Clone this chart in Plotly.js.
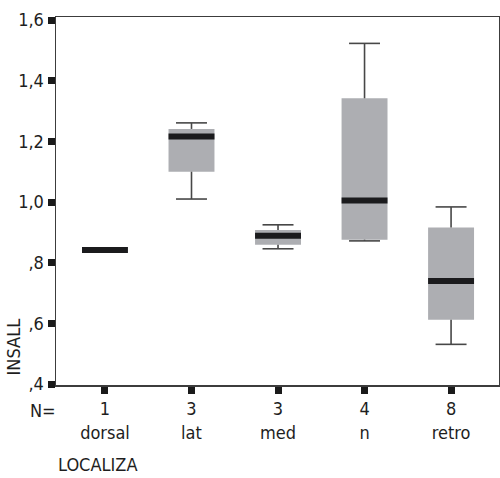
<!DOCTYPE html>
<html>
<head>
<meta charset="utf-8">
<script src="https://cdn.plot.ly/plotly-3.0.1.min.js"></script>
<style>html,body{margin:0;padding:0;background:#fff;}#chart{width:500px;height:478px;}</style>
</head>
<body>
<div id="chart"></div>
<script>
// ---- data ----
const categories = ['dorsal', 'lat', 'med', 'n', 'retro'];
const counts = [1, 3, 3, 4, 8];
const lowerWhisker = [0.842, 1.010, 0.846, 0.872, 0.531];
const q1 = [0.842, 1.100, 0.859, 0.876, 0.612];
const median = [0.842, 1.216, 0.889, 1.005, 0.740];
const q3 = [0.842, 1.241, 0.908, 1.342, 0.916];
const upperWhisker = [0.842, 1.261, 0.925, 1.523, 0.984];
const yTickValues = [0.4, 0.6, 0.8, 1.0, 1.2, 1.4, 1.6];
const yTickLabels = [',4', ',6', ',8', '1,0', '1,2', '1,4', '1,6'];
const yTitle = 'INSALL';
const xTitle = 'LOCALIZA';
const nLabel = 'N=';

// ---- styling ----
const FONT = '"Liberation Sans Narrow", "DejaVu Sans Condensed", "Roboto Condensed", sans-serif';
const TXT = '#1e1e1e';
const BOX_W = 0.531, CAP_HALF = 0.179;
const pos = categories.map((c, i) => i);

const boxTrace = {
  type: 'bar', x: pos, base: q1, y: q3.map((v, i) => v - q1[i]),
  width: BOX_W, marker: {color: '#adaeb2', line: {width: 0}}, hoverinfo: 'skip', showlegend: false
};

const wx = [], wy = [];
pos.forEach((x, i) => {
  if (upperWhisker[i] > q3[i]) {
    wx.push(x, x, null, x - CAP_HALF, x + CAP_HALF, null);
    wy.push(q3[i], upperWhisker[i], null, upperWhisker[i], upperWhisker[i], null);
  }
  if (lowerWhisker[i] < q1[i]) {
    wx.push(x, x, null, x - CAP_HALF, x + CAP_HALF, null);
    wy.push(q1[i], lowerWhisker[i], null, lowerWhisker[i], lowerWhisker[i], null);
  }
});
const whiskerTrace = {
  type: 'scatter', mode: 'lines', x: wx, y: wy, connectgaps: false,
  line: {color: '#474747', width: 1.6}, hoverinfo: 'skip', showlegend: false
};

const mx = [], my = [];
pos.forEach((x, i) => {
  mx.push(x - BOX_W / 2, x + BOX_W / 2, null);
  my.push(median[i], median[i], null);
});
const medianTrace = {
  type: 'scatter', mode: 'lines', x: mx, y: my, connectgaps: false,
  line: {color: '#1b1b1d', width: 6}, hoverinfo: 'skip', showlegend: false
};

const layout = {
  width: 500, height: 478,
  margin: {l: 56, r: 1, t: 17, b: 93},
  paper_bgcolor: '#ffffff', plot_bgcolor: '#ffffff',
  barmode: 'overlay',
  font: {family: FONT, size: 18, color: TXT},
  xaxis: {
    range: [-0.566, 4.554], tickmode: 'array', tickvals: pos,
    ticktext: categories.map((c, i) => counts[i] + '<br>' + c),
    ticks: 'outside', ticklen: 7, tickwidth: 7, tickcolor: '#1a1a1a',
    showline: true, mirror: true, linecolor: '#3c3c3c', linewidth: 1.5,
    showgrid: false, zeroline: false, fixedrange: true,
    tickfont: {family: FONT, size: 18, color: TXT}
  },
  yaxis: {
    range: [0.397, 1.61], tickmode: 'array', tickvals: yTickValues, ticktext: yTickLabels,
    ticks: 'outside', ticklen: 7, tickwidth: 7, tickcolor: '#1a1a1a',
    showline: true, mirror: true, linecolor: '#3c3c3c', linewidth: 1.5,
    showgrid: false, zeroline: false, fixedrange: true,
    tickfont: {family: FONT, size: 18, color: TXT}
  },
  annotations: [
    {text: nLabel, xref: 'paper', yref: 'paper', x: 0, y: -0.07, xanchor: 'right', yanchor: 'middle',
     xshift: 2, showarrow: false, font: {family: FONT, size: 18, color: TXT}},
    {text: xTitle, xref: 'paper', yref: 'paper', x: 0, y: -0.217, xanchor: 'left', yanchor: 'middle',
     xshift: 0, showarrow: false, font: {family: FONT, size: 18, color: TXT}},
    {text: yTitle, xref: 'paper', yref: 'paper', x: -0.095, y: 0.0217, xanchor: 'center', yanchor: 'bottom',
     textangle: -90, showarrow: false, font: {family: FONT, size: 18, color: TXT}}
  ]
};

Plotly.newPlot('chart', [boxTrace, whiskerTrace, medianTrace], layout, {staticPlot: true, displayModeBar: false});
</script>
</body>
</html>
